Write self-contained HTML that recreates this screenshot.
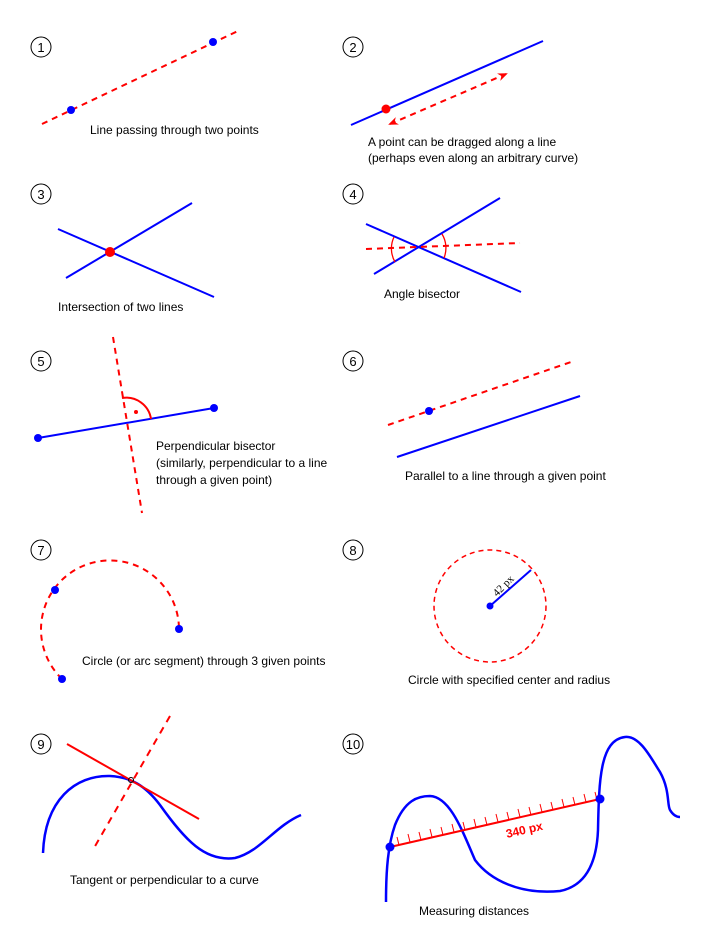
<!DOCTYPE html>
<html><head><meta charset="utf-8"><style>
body{margin:0;background:#fff}
svg{display:block}
text{font-family:"Liberation Sans",sans-serif;font-size:12px;fill:#000}
.n{font-size:13px;text-anchor:middle}
</style></head><body>
<svg width="705" height="949" viewBox="0 0 705 949">
<defs>
<marker id="ah" markerWidth="10" markerHeight="8" refX="8" refY="4" orient="auto-start-reverse" markerUnits="userSpaceOnUse">
<path d="M0,0 L10,4 L0,8 L3,4 Z" fill="#f00"/></marker>
</defs>
<g fill="none" stroke="#000" stroke-width="1">
<circle cx="41" cy="47" r="10"/><circle cx="353" cy="47" r="10"/>
<circle cx="41" cy="194" r="10"/><circle cx="353" cy="194" r="10"/>
<circle cx="41" cy="361" r="10"/><circle cx="353" cy="361" r="10"/>
<circle cx="41" cy="550" r="10"/><circle cx="353" cy="550" r="10"/>
<circle cx="41" cy="744" r="10"/><circle cx="353" cy="744" r="10"/>
</g>
<text class="n" x="41" y="52">1</text><text class="n" x="353" y="52">2</text>
<text class="n" x="41" y="199">3</text><text class="n" x="353" y="199">4</text>
<text class="n" x="41" y="366">5</text><text class="n" x="353" y="366">6</text>
<text class="n" x="41" y="555">7</text><text class="n" x="353" y="555">8</text>
<text class="n" x="41" y="749">9</text><text class="n" x="353" y="749">10</text>

<!-- 1 -->
<line x1="42" y1="124" x2="240" y2="30" stroke="#f00" stroke-width="2" stroke-dasharray="6,5"/>
<circle cx="71" cy="110" r="4" fill="#00f"/><circle cx="213" cy="42" r="4" fill="#00f"/>
<text x="90" y="134">Line passing through two points</text>

<!-- 2 -->
<line x1="351" y1="125" x2="543" y2="41" stroke="#00f" stroke-width="2"/>
<line x1="390" y1="124" x2="506" y2="74" stroke="#f00" stroke-width="2" stroke-dasharray="6,5" marker-start="url(#ah)" marker-end="url(#ah)"/>
<circle cx="386" cy="109" r="4.5" fill="#f00"/>
<text x="368" y="146">A point can be dragged along a line</text>
<text x="368" y="162">(perhaps even along an arbitrary curve)</text>

<!-- 3 -->
<line x1="58" y1="229" x2="214" y2="297" stroke="#00f" stroke-width="2"/>
<line x1="66" y1="278" x2="192" y2="203" stroke="#00f" stroke-width="2"/>
<circle cx="110" cy="252" r="5" fill="#f00"/>
<text x="58" y="311">Intersection of two lines</text>

<!-- 4 -->
<line x1="366" y1="224" x2="521" y2="292" stroke="#00f" stroke-width="2"/>
<line x1="374" y1="274" x2="500" y2="198" stroke="#00f" stroke-width="2"/>
<line x1="366" y1="249" x2="520" y2="243" stroke="#f00" stroke-width="2" stroke-dasharray="6,5"/>
<path d="M394,237 A27,27 0 0 0 395,262" fill="none" stroke="#f00" stroke-width="1.3"/>
<path d="M442,234 A27,27 0 0 1 444,258" fill="none" stroke="#f00" stroke-width="1.3"/>
<text x="384" y="298">Angle bisector</text>

<!-- 5 -->
<line x1="38" y1="438" x2="214" y2="408" stroke="#00f" stroke-width="2"/>
<line x1="113" y1="337" x2="142" y2="513" stroke="#f00" stroke-width="2" stroke-dasharray="6,5"/>
<path d="M122,398 A25,25 0 0 1 151,419" fill="none" stroke="#f00" stroke-width="2"/>
<circle cx="136" cy="412" r="2" fill="#f00"/>
<circle cx="38" cy="438" r="4" fill="#00f"/><circle cx="214" cy="408" r="4" fill="#00f"/>
<text x="156" y="450">Perpendicular bisector</text>
<text x="156" y="467">(similarly, perpendicular to a line</text>
<text x="156" y="484">through a given point)</text>

<!-- 6 -->
<line x1="388" y1="425" x2="571" y2="362" stroke="#f00" stroke-width="2" stroke-dasharray="6,5"/>
<line x1="397" y1="457" x2="580" y2="396" stroke="#00f" stroke-width="2"/>
<circle cx="429" cy="411" r="4" fill="#00f"/>
<text x="405" y="480">Parallel to a line through a given point</text>

<!-- 7 -->
<path d="M62,679 A69,69 0 1 1 179,629" fill="none" stroke="#f00" stroke-width="2" stroke-dasharray="6,5"/>
<circle cx="55" cy="590" r="4" fill="#00f"/><circle cx="179" cy="629" r="4" fill="#00f"/><circle cx="62" cy="679" r="4" fill="#00f"/>
<text x="82" y="665">Circle (or arc segment) through 3 given points</text>

<!-- 8 -->
<circle cx="490" cy="606" r="56" fill="none" stroke="#f00" stroke-width="1.5" stroke-dasharray="5,4"/>
<line x1="490" y1="606" x2="531" y2="570" stroke="#00f" stroke-width="2"/>
<circle cx="490" cy="606" r="3.5" fill="#00f"/>
<text x="0" y="0" transform="translate(497,597) rotate(-45)" style="font-family:'Liberation Serif',serif;font-size:11px">42 px</text>
<text x="408" y="684">Circle with specified center and radius</text>

<!-- 9 -->
<path d="M43,853 C45,800 75,775 110,776 C130,777 145,785 160,805 C185,840 205,862 235,858 C260,852 275,826 301,815" fill="none" stroke="#00f" stroke-width="2.5"/>
<line x1="67" y1="744" x2="199" y2="819" stroke="#f00" stroke-width="2"/>
<line x1="170" y1="716" x2="94" y2="848" stroke="#f00" stroke-width="2" stroke-dasharray="7,6"/>
<circle cx="131" cy="780" r="2.5" fill="none" stroke="#000" stroke-width="1"/>
<text x="70" y="884">Tangent or perpendicular to a curve</text>

<!-- 10 -->
<path d="M386,902 C386,870 388,845 395,825 C405,800 418,796 430,796 C450,797 462,830 475,860 C490,880 520,895 560,891 C590,885 597,855 598,830 C599,780 600,740 625,737 C640,735 652,760 660,772 C670,790 667,805 670,810 C673,815 676,817 680,817" fill="none" stroke="#00f" stroke-width="2.5"/>
<line x1="390" y1="847" x2="600" y2="799" stroke="#f00" stroke-width="2"/>
<g stroke="#f00" stroke-width="1">
<path d="M399,845 l-2,-8 M410,842 l-2,-8 M421,840 l-2,-8 M432,837 l-2,-8 M443,835 l-2,-8 M454,832 l-2,-8 M465,830 l-2,-8 M476,827 l-2,-8 M487,825 l-2,-8 M498,822 l-2,-8 M509,820 l-2,-8 M520,817 l-2,-8 M531,815 l-2,-8 M542,812 l-2,-8 M553,810 l-2,-8 M564,807 l-2,-8 M575,805 l-2,-8 M586,802 l-2,-8 M597,800 l-2,-8"/>
</g>
<circle cx="390" cy="847" r="4.5" fill="#00f"/><circle cx="600" cy="799" r="4.5" fill="#00f"/>
<text x="0" y="0" transform="translate(507,838) rotate(-13)" style="fill:#f00;font-weight:bold;font-size:12px">340 px</text>
<text x="419" y="915">Measuring distances</text>
</svg>
</body></html>
